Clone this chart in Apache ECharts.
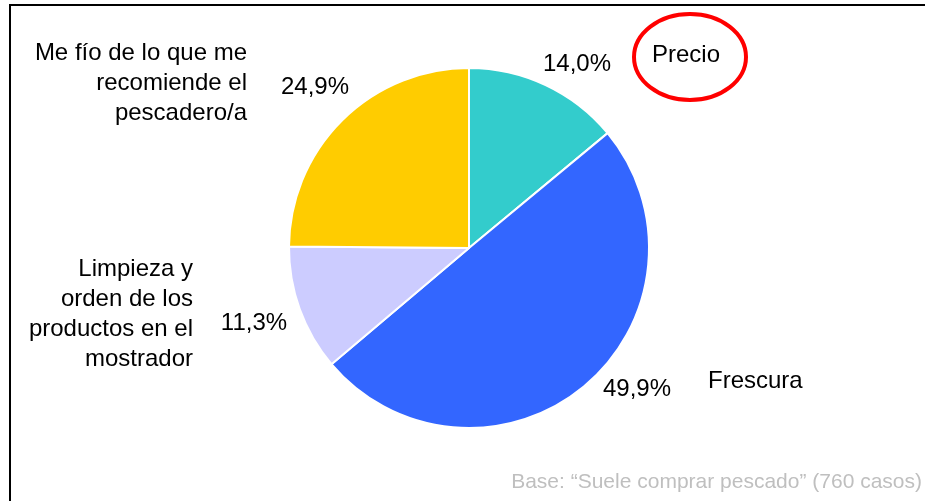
<!DOCTYPE html>
<html>
<head>
<meta charset="utf-8">
<script src="https://cdn.jsdelivr.net/npm/echarts@6/dist/echarts.min.js"></script>
<style>
  html, body { margin: 0; padding: 0; background: #fff; }
  #main { width: 925px; height: 501px; }
</style>
</head>
<body>
<div id="main"></div>
<script>
// datos del gráfico
var categorias = ['Precio', 'Frescura', 'Limpieza y\norden de los\nproductos en el\nmostrador', 'Me fío de lo que me\nrecomiende el\npescadero/a'];
var valores = [14.0, 49.9, 11.3, 24.9];
var colores = ['#33cccc', '#3366ff', '#ccccff', '#ffcc00'];
var nota = 'Base: \u201cSuele comprar pescado\u201d (760 casos)';

// posiciones de las etiquetas (como en el original de Excel)
var posNombre = [
  { x: 652, y: 55, align: 'left' },
  { x: 708, y: 381, align: 'left' },
  { x: 193, y: 314, align: 'right' },
  { x: 247, y: 83, align: 'right' }
];
var posPorcentaje = [
  { x: 577, y: 64 },
  { x: 637, y: 389 },
  { x: 254, y: 323 },
  { x: 315, y: 87 }
];

var fuente = "'Liberation Sans', Arial, sans-serif";
var myChart = echarts.init(document.getElementById('main'));

var datos = categorias.map(function (c, i) {
  return { name: c, value: valores[i], itemStyle: { color: colores[i] } };
});

var option = {
  animation: false,
  textStyle: { fontFamily: fuente },
  series: [{
    type: 'pie',
    center: [469, 248],
    radius: 180,
    startAngle: 90,
    clockwise: true,
    silent: true,
    itemStyle: { borderColor: '#fff', borderWidth: 2 },
    label: {
      show: true,
      position: 'outside',
      formatter: '{b}',
      fontSize: 24,
      lineHeight: 30,
      color: '#000',
      fontFamily: fuente
    },
    labelLine: { show: false },
    labelLayout: function (p) {
      var q = posNombre[p.dataIndex];
      return { x: q.x, y: q.y, align: q.align, verticalAlign: 'middle' };
    },
    data: datos
  }, {
    // capa transparente solo para los porcentajes
    type: 'pie',
    center: [469, 248],
    radius: 180,
    startAngle: 90,
    clockwise: true,
    silent: true,
    itemStyle: { color: 'rgba(0,0,0,0)' },
    label: {
      show: true,
      position: 'outside',
      formatter: function (p) {
        return p.value.toFixed(1).replace('.', ',') + '%';
      },
      fontSize: 24,
      color: '#000',
      fontFamily: fuente
    },
    labelLine: { show: false },
    labelLayout: function (p) {
      var q = posPorcentaje[p.dataIndex];
      return { x: q.x, y: q.y, align: 'center', verticalAlign: 'middle' };
    },
    data: valores.map(function (v, i) { return { name: categorias[i], value: v }; })
  }],
  graphic: [{
    type: 'rect',
    shape: { x: 10, y: 5, width: 1000, height: 600 },
    style: { fill: 'none', stroke: '#000', lineWidth: 2 },
    silent: true
  }, {
    type: 'ellipse',
    shape: { cx: 690, cy: 57, rx: 56, ry: 43 },
    style: { fill: 'none', stroke: '#ff0000', lineWidth: 4 },
    silent: true
  }, {
    type: 'text',
    right: 3,
    top: 472,
    style: { text: nota, fontSize: 21, fill: '#bfbfbf', fontFamily: fuente },
    silent: true
  }]
};

myChart.setOption(option);

window.addEventListener('resize', function () {
  myChart.resize();
});
</script>
</body>
</html>
